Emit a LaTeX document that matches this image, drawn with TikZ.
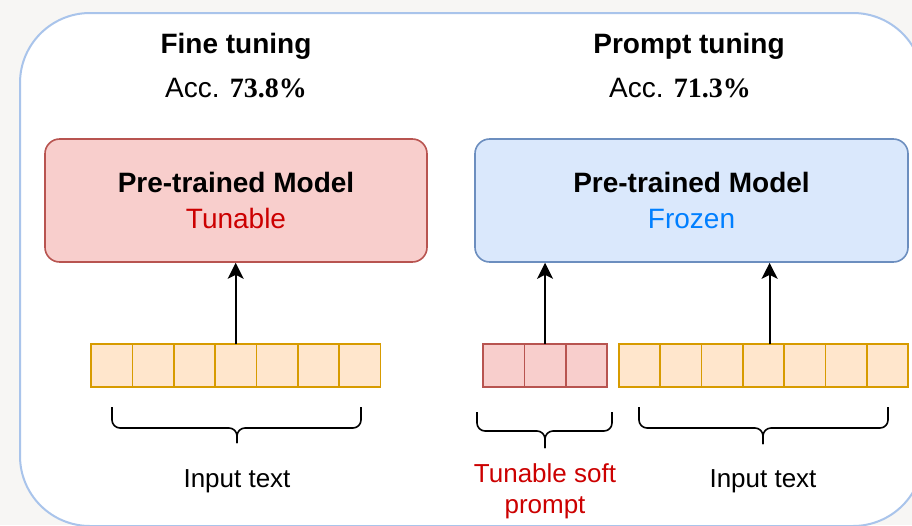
\documentclass[tikz,border=0pt]{standalone}
\usepackage{fontspec}
\setmainfont{Liberation Sans}
\newfontfamily\accfont{Liberation Serif}
\usepackage{tikz}
\usetikzlibrary{positioning, arrows.meta}

\definecolor{bggray}{HTML}{F7F6F4}
\definecolor{frameblue}{HTML}{A9C4EB}
\definecolor{redfill}{HTML}{F8CECC}
\definecolor{redline}{HTML}{B85450}
\definecolor{bluefill}{HTML}{DAE8FC}
\definecolor{blueline}{HTML}{6C8EBF}
\definecolor{tokfill}{HTML}{FFE6CC}
\definecolor{tokline}{HTML}{D79B00}
\definecolor{tunred}{HTML}{CC0000}
\definecolor{frozenblue}{HTML}{007FFF}

\begin{document}
\begin{tikzpicture}[x=0.75pt, y=-0.75pt,
    model/.style={rectangle, rounded corners=11pt, draw, line width=1.2pt, minimum height=92.25pt, align=center, font=\fontsize{21}{27}\selectfont},
    tok/.style={rectangle, draw=tokline, fill=tokfill, line width=1.2pt, minimum width=31pt, minimum height=32.25pt, inner sep=0pt, outer sep=0pt},
    soft/.style={tok, draw=redline, fill=redfill},
    head/.style={font=\fontsize{21}{25}\selectfont\bfseries, anchor=base},
    acc/.style={font=\fontsize{21}{25}\selectfont, anchor=base},
    note/.style={font=\fontsize{19.5}{23.25}\selectfont, align=center, anchor=base},
    uparrow/.style={line width=1.4pt, -{Stealth[length=12pt, width=12pt, inset=3pt]}},
    curly/.style={line width=1.2pt, rounded corners=6pt}]

    % page and outer frame
    \fill[bggray] (0,0) rectangle (912,525);
    \useasboundingbox (0,0) rectangle (912,525);
    \clip (0,0) rectangle (912,525);
    \draw[frameblue, fill=white, line width=1.5pt, rounded corners=52.5pt] (20,13) rectangle (923,526);

    % headings
    \node[head] (fthead) at (236,53) {Fine tuning};
    \node[acc] (ftacc) at (236,97) {Acc. {\accfont\bfseries 73.8\%}};
    \node[head] (pthead) at (689,53) {Prompt tuning};
    \node[acc] (ptacc) at (680,97) {Acc. {\accfont\bfseries 71.3\%}};

    % models
    \node[model, draw=redline, fill=redfill, minimum width=286.5pt] (ftmodel) at (236,200.5)
        {\textbf{Pre-trained Model}\\\textcolor{tunred}{Tunable}};
    \node[model, draw=blueline, fill=bluefill, minimum width=324.75pt] (ptmodel) at (691.5,200.5)
        {\textbf{Pre-trained Model}\\\textcolor{frozenblue}{Frozen}};

    % token rows
    \node[tok] (ft1) at (111.7,365.5) {};
    \foreach \i [count=\j from 2] in {1,...,6}
        \node[tok, right=0pt of ft\i] (ft\j) {};
    \node[soft] (sp1) at (503.7,365.5) {};
    \foreach \i [count=\j from 2] in {1,2}
        \node[soft, right=0pt of sp\i] (sp\j) {};
    \node[tok] (in1) at (639.6,365.5) {};
    \foreach \i [count=\j from 2] in {1,...,6}
        \node[tok, right=0pt of in\i] (in\j) {};

    \draw[uparrow] (ft4.north) -- (ft4.north |- ftmodel.south);
    \draw[uparrow] (sp2.north) -- (sp2.north |- ptmodel.south);
    \draw[uparrow] ([xshift=4.5pt]in4.north) -- ([xshift=4.5pt]in4.north |- ptmodel.south);

    % braces
    \draw[curly] (112,407) -- (112,428) -- (237,428) -- (237,443);
    \draw[curly] (361,407) -- (361,428) -- (237,428) -- (237,443);
    \draw[curly] (477,412) -- (477,431) -- (545,431) -- (545,448);
    \draw[curly] (612,412) -- (612,431) -- (545,431) -- (545,448);
    \draw[curly] (639,407) -- (639,428) -- (763,428) -- (763,444);
    \draw[curly] (888,407) -- (888,428) -- (763,428) -- (763,444);

    \node[note] (ftinput) at (237,487) {Input text};
    \node[note, text=tunred] (spnote) at (545,513) {Tunable soft\\prompt};
    \node[note] (ptinput) at (763,487) {Input text};
\end{tikzpicture}
\end{document}
